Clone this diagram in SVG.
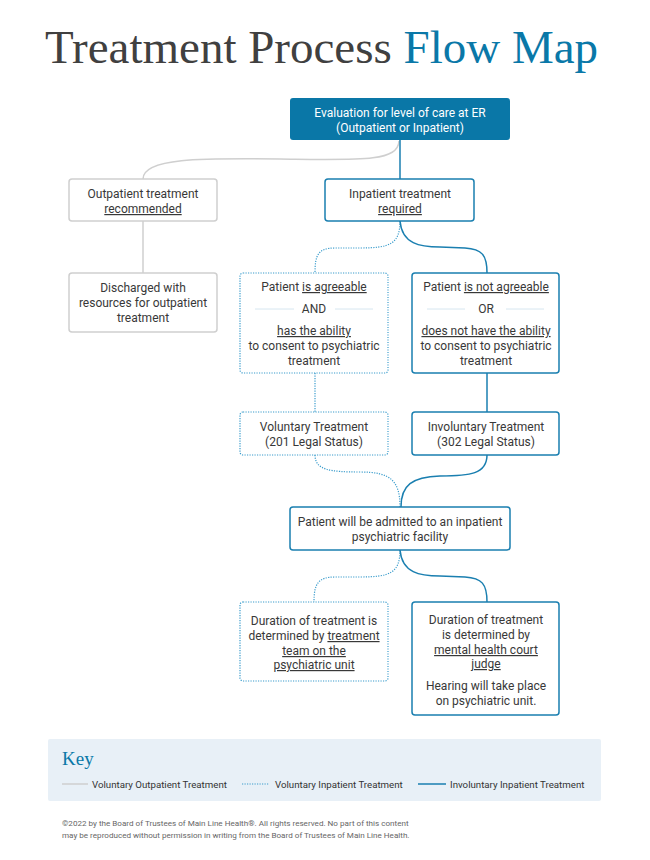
<svg xmlns="http://www.w3.org/2000/svg" width="650" height="860" viewBox="0 0 650 860">
<style>
.t{font-family:Roboto,"Liberation Sans",sans-serif;font-size:12px;fill:#383838;text-anchor:middle}
.w{fill:#ffffff}
.u{text-decoration:underline}
.gray{fill:#fff;stroke:#cfcfcf;stroke-width:1.5}
.sol{fill:#fff;stroke:#1a7fb0;stroke-width:1.5}
.dot{fill:#fff;stroke:#3a9ccc;stroke-width:1.2;stroke-dasharray:1.2 1.3}
.cg{fill:none;stroke:#cfcfcf;stroke-width:1.5}
.cs{fill:none;stroke:#1a7fb0;stroke-width:1.5}
.cd{fill:none;stroke:#3a9ccc;stroke-width:1.2;stroke-dasharray:1.2 1.3}
.sep{stroke:#d6e6f0;stroke-width:1}
.k{font-family:Roboto,"Liberation Sans",sans-serif;font-size:9.7px;fill:#333}
.f{font-family:Roboto,"Liberation Sans",sans-serif;font-size:8.1px;fill:#666}
</style>
<rect width="650" height="860" fill="#ffffff"/>
<text x="45" y="63" font-family="'Liberation Serif',serif" font-size="47" fill="#404040">Treatment Process <tspan fill="#0a78a8">Flow Map</tspan></text>

<g id="connectors">
<path class="cg" d="M399,141 C398,162 360,160 280,159 C200,158 143,158 143,179"/>
<path class="cg" d="M143,221 L143,273"/>
<path class="cs" d="M400,140 L400,179"/>
<path class="cd" d="M400,221 C400,244 390,248 360,248 L335,248 C318,248 315,255 315,273"/>
<path class="cs" d="M400,221 C402,244 420,247 440,247 L465,248 C482,249 487,255 487,273"/>
<path class="cd" d="M315,373 L315,412"/>
<path class="cs" d="M487,373 L487,412"/>
<path class="cd" d="M315,455 C315,470 330,472 360,472 C390,472 400,480 400,507"/>
<path class="cs" d="M487,455 C487,474 470,476 440,476 C412,477 401,485 401,507"/>
<path class="cd" d="M400,550 C400,573 390,577 360,577 L335,577 C318,577 314,584 314,602"/>
<path class="cs" d="M400,550 C402,573 420,576 440,576 L465,577 C482,578 487,584 487,602"/>
</g>

<g id="n-eval">
<rect x="290" y="98" width="220" height="42" rx="3" fill="#0a77a7"/>
<text class="t w" x="400" y="117">Evaluation for level of care at ER</text>
<text class="t w" x="400" y="132">(Outpatient or Inpatient)</text>
</g>
<g id="n-outpatient">
<rect class="gray" x="69" y="179" width="148" height="42" rx="3"/>
<text class="t" x="143" y="198">Outpatient treatment</text>
<text class="t" x="143" y="213"><tspan class="u">recommended</tspan></text>
</g>
<g id="n-inpatient">
<rect class="sol" x="325" y="179" width="149" height="42" rx="3"/>
<text class="t" x="400" y="198">Inpatient treatment</text>
<text class="t" x="400" y="213"><tspan class="u">required</tspan></text>
</g>
<g id="n-discharged">
<rect class="gray" x="69" y="273" width="148" height="59" rx="3"/>
<text class="t" x="143" y="292">Discharged with</text>
<text class="t" x="143" y="307">resources for outpatient</text>
<text class="t" x="143" y="322">treatment</text>
</g>
<g id="n-agreeable">
<rect class="dot" x="240" y="273" width="148" height="100" rx="3"/>
<text class="t" x="314" y="291">Patient <tspan class="u">is agreeable</tspan></text>
<line class="sep" x1="255" y1="309" x2="294" y2="309"/>
<line class="sep" x1="335" y1="309" x2="373" y2="309"/>
<text class="t" x="314" y="313">AND</text>
<text class="t" x="314" y="335"><tspan class="u">has the ability</tspan></text>
<text class="t" x="314" y="350">to consent to psychiatric</text>
<text class="t" x="314" y="365">treatment</text>
</g>
<g id="n-notagreeable">
<rect class="sol" x="412" y="273" width="147" height="100" rx="3"/>
<text class="t" x="486" y="291">Patient <tspan class="u">is not agreeable</tspan></text>
<line class="sep" x1="427" y1="309" x2="465" y2="309"/>
<line class="sep" x1="506" y1="309" x2="544" y2="309"/>
<text class="t" x="486" y="313">OR</text>
<text class="t" x="486" y="335"><tspan class="u">does not have the ability</tspan></text>
<text class="t" x="486" y="350">to consent to psychiatric</text>
<text class="t" x="486" y="365">treatment</text>
</g>
<g id="n-voluntary">
<rect class="dot" x="240" y="412" width="148" height="43" rx="3"/>
<text class="t" x="314" y="431">Voluntary Treatment</text>
<text class="t" x="314" y="446">(201 Legal Status)</text>
</g>
<g id="n-involuntary">
<rect class="sol" x="412" y="412" width="147" height="43" rx="3"/>
<text class="t" x="486" y="431">Involuntary Treatment</text>
<text class="t" x="486" y="446">(302 Legal Status)</text>
</g>
<g id="n-admitted">
<rect class="sol" x="290" y="507" width="220" height="43" rx="3"/>
<text class="t" x="400" y="526">Patient will be admitted to an inpatient</text>
<text class="t" x="400" y="541">psychiatric facility</text>
</g>
<g id="n-duration-team">
<rect class="dot" x="240" y="602" width="148" height="79" rx="3"/>
<text class="t" x="314" y="625">Duration of treatment is</text>
<text class="t" x="314" y="640">determined by <tspan class="u">treatment</tspan></text>
<text class="t" x="314" y="655"><tspan class="u">team on the</tspan></text>
<text class="t" x="314" y="669"><tspan class="u">psychiatric unit</tspan></text>
</g>
<g id="n-duration-judge">
<rect class="sol" x="412" y="602" width="147" height="113" rx="3"/>
<text class="t" x="486" y="624">Duration of treatment</text>
<text class="t" x="486" y="639">is determined by</text>
<text class="t" x="486" y="654"><tspan class="u">mental health court </tspan></text>
<text class="t" x="486" y="668"><tspan class="u">judge</tspan></text>
<text class="t" x="486" y="690">Hearing will take place</text>
<text class="t" x="486" y="705">on psychiatric unit.</text>
</g>

<g id="key">
<rect x="48" y="739" width="553" height="62" rx="2" fill="#e8f0f7"/>
<text x="62" y="765" font-family="'Liberation Serif',serif" font-size="19" fill="#0a78a8">Key</text>
<line class="cg" x1="62" y1="784" x2="88" y2="784"/>
<text class="k" x="92" y="788">Voluntary Outpatient Treatment</text>
<line class="cd" x1="242" y1="784" x2="269" y2="784"/>
<text class="k" x="275" y="788">Voluntary Inpatient Treatment</text>
<line class="cs" x1="418" y1="784" x2="446" y2="784"/>
<text class="k" x="450" y="788">Involuntary Inpatient Treatment</text>
</g>
<g id="footer">
<text class="f" x="62" y="826">©2022 by the Board of Trustees of Main Line Health®. All rights reserved. No part of this content</text>
<text class="f" x="62" y="838">may be reproduced without permission in writing from the Board of Trustees of Main Line Health.</text>
</g>
</svg>
